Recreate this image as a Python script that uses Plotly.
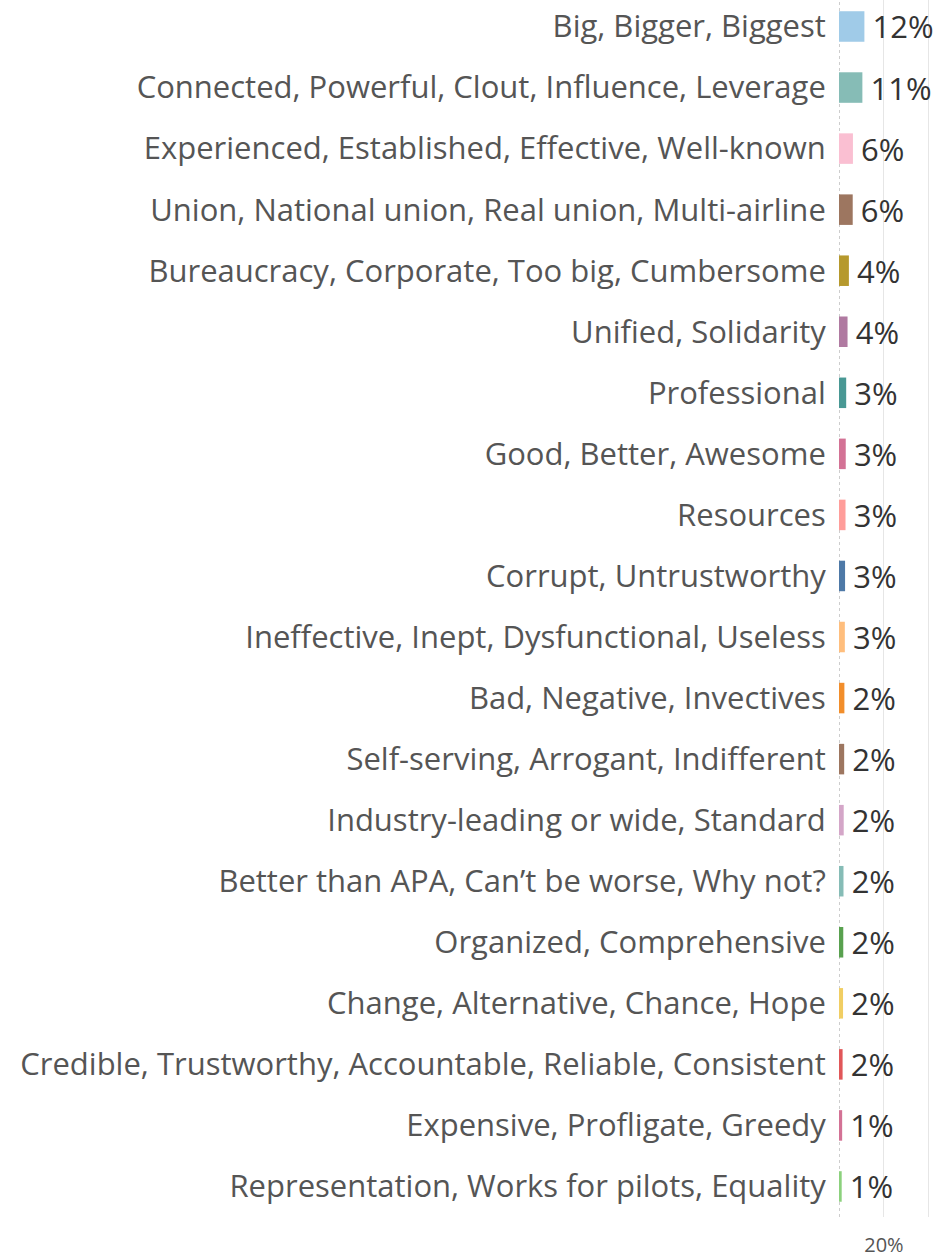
import plotly.graph_objects as go

categories = [
    "Big, Bigger, Biggest",
    "Connected, Powerful, Clout, Influence, Leverage",
    "Experienced, Established, Effective, Well-known",
    "Union, National union, Real union, Multi-airline",
    "Bureaucracy, Corporate, Too big, Cumbersome",
    "Unified, Solidarity",
    "Professional",
    "Good, Better, Awesome",
    "Resources",
    "Corrupt, Untrustworthy",
    "Ineffective, Inept, Dysfunctional, Useless",
    "Bad, Negative, Invectives",
    "Self-serving, Arrogant, Indifferent",
    "Industry-leading or wide, Standard",
    "Better than APA, Can\u2019t be worse, Why not?",
    "Organized, Comprehensive",
    "Change, Alternative, Chance, Hope",
    "Credible, Trustworthy, Accountable, Reliable, Consistent",
    "Expensive, Profligate, Greedy",
    "Representation, Works for pilots, Equality",
]
values = [11.3, 10.4, 6.2, 6.1, 4.4, 3.8, 3.2, 3.0, 2.9, 2.7, 2.6, 2.4, 2.3, 2.1, 2.0, 1.9, 1.8, 1.6, 1.4, 1.2]
value_labels = ["12%", "11%", "6%", "6%", "4%", "4%", "3%", "3%", "3%", "3%", "3%",
                "2%", "2%", "2%", "2%", "2%", "2%", "2%", "1%", "1%"]
colors = ["#a0cbe8", "#86bcb6", "#fabfd2", "#9d7660", "#b6992d", "#b07aa1", "#499894",
          "#d37295", "#ff9d9a", "#4e79a7", "#ffbe7d", "#f28e2b", "#9d7660", "#d4a6c8",
          "#86bcb6", "#59a14f", "#f1ce63", "#e15759", "#d37295", "#8cd17d"]
x_tick_vals = [20, 40]
x_tick_text = ["20%", ""]

FONT = "Open Sans"

fig = go.Figure(go.Bar(
    y=categories,
    x=values,
    orientation="h",
    marker=dict(color=colors, line=dict(width=0)),
    text=["\u2009" + t for t in value_labels],
    textposition="outside",
    constraintext="none",
    cliponaxis=False,
    textfont=dict(family=FONT, size=31, color="#333333"),
    width=0.5,
    hoverinfo="skip",
))

fig.update_layout(
    width=937, height=1257,
    margin=dict(l=839, r=0, t=0, b=40),
    paper_bgcolor="white", plot_bgcolor="white",
    showlegend=False,
    xaxis=dict(
        range=[0, 43.6],
        tickvals=x_tick_vals, ticktext=x_tick_text,
        showgrid=True, gridcolor="#e6e6e6", gridwidth=1,
        zeroline=False, showline=False,
        ticks="outside", ticklen=10, tickcolor="rgba(0,0,0,0)",
        tickfont=dict(family=FONT, size=20, color="#555555"),
    ),
    yaxis=dict(
        categoryorder="array", categoryarray=categories,
        range=[19.5, -0.434],
        showgrid=False, zeroline=False, showline=False,
        ticks="outside", ticklen=6, tickcolor="rgba(0,0,0,0)",
        tickfont=dict(family=FONT, size=31, color="#555555"),
        automargin=False,
    ),
    shapes=[dict(type="line", xref="x", yref="paper", x0=0, x1=0, y0=0, y1=1,
                 line=dict(color="#bdbdbd", width=1.5, dash="dot"), layer="below")],
)

# Remove the default page margin so the figure fills the window exactly.
fig.write_html(
    "out.html",
    config={"displayModeBar": False},
    post_script="document.body.style.margin='0';document.body.style.overflow='hidden';",
)
